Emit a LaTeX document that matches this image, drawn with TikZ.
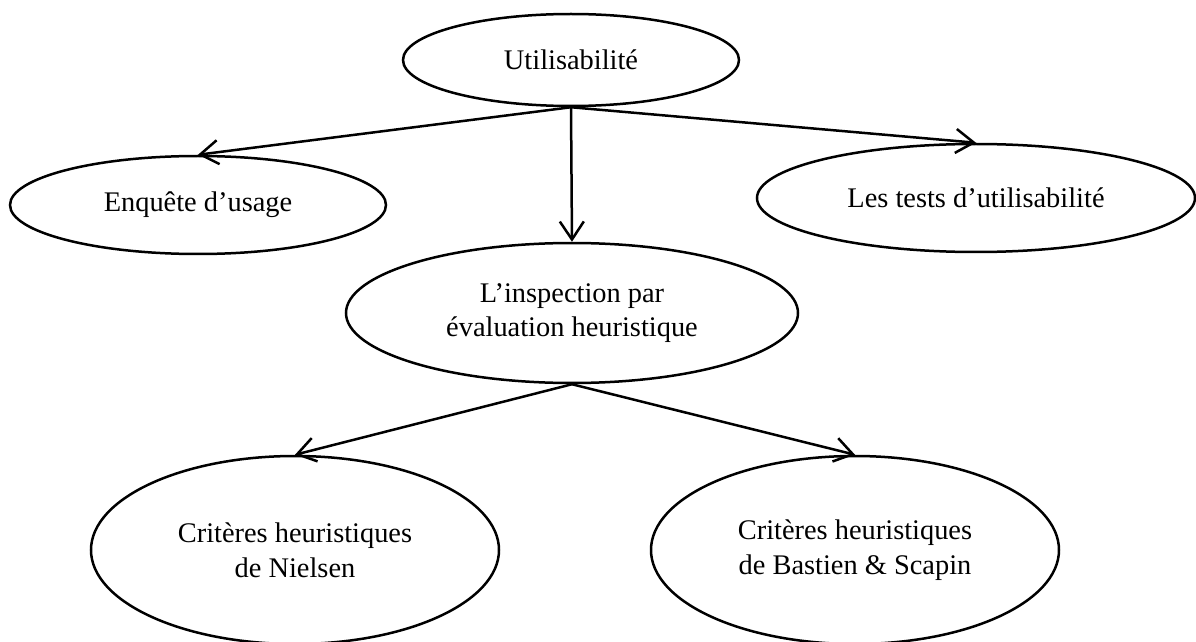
\documentclass[tikz,border=0pt]{standalone}
\usepackage{fontspec}
\setmainfont{Liberation Serif}
\usetikzlibrary{shapes.geometric,arrows.meta}
\begin{document}
\begin{tikzpicture}[x=0.5pt,y=-0.5pt]
    \tikzstyle{el}=[draw=black, ellipse, line width=1.25pt, inner sep=0pt, align=center, font=\fontsize{14.2}{17.3}\selectfont];
    \tikzstyle{arr}=[line width=1.25pt, -{Straight Barb[length=9pt,width=12pt]}];
    \useasboundingbox (0,0) rectangle (1196,642);

	\node (util) at (571, 60) [el, minimum width=168pt, minimum height=46pt] {Utilisabilité};
	\node (enq) at (198, 205) [el, minimum width=188pt, minimum height=49pt] {Enquête d’usage};
	\node (tests) at (976, 198) [el, minimum width=219pt, minimum height=54pt] {Les tests d’utilisabilité};
	\node (insp) at (572, 313) [el, minimum width=226pt, minimum height=70pt] {L’inspection par\\évaluation heuristique};
	\node (niel) at (295, 550) [el, minimum width=204pt, minimum height=94pt] {Critères heuristiques\\de Nielsen};
	\node (bast) at (855, 550) [el, minimum width=204pt, minimum height=94pt] {Critères heuristiques\\de Bastien \& Scapin};

	\draw[arr] (util.south) -- (enq.north);
	\draw[arr] (util.south) -- (insp.north);
	\draw[arr] (util.south) -- (tests.north);
	\draw[arr] (insp.south) -- (niel.north);
	\draw[arr] (insp.south) -- (bast.north);
    \end{tikzpicture}
\end{document}
